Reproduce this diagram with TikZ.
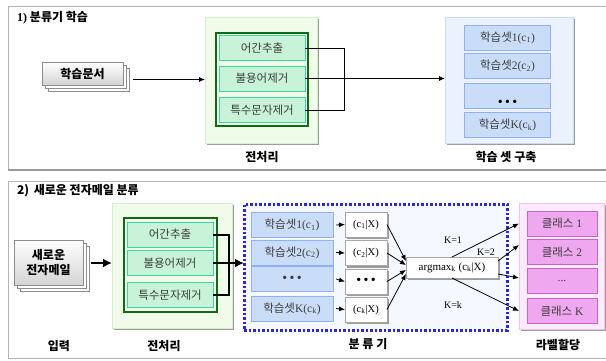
\documentclass[tikz,border=0pt]{standalone}
\usepackage{fontspec}
\setmainfont{Liberation Serif}
\newfontfamily\kr{Noto Sans CJK KR}
\usetikzlibrary{arrows.meta,positioning,shadows}

\definecolor{framegray}{HTML}{B4B4B4}
\definecolor{shadowgray}{HTML}{9C9C9C}
\definecolor{txtgray}{HTML}{3C3C3C}
\definecolor{docline}{HTML}{8C8C8C}
\definecolor{docgray}{HTML}{D4D4D4}
\definecolor{greenbg}{HTML}{F1FBEA}
\definecolor{greenline}{HTML}{D4EFCB}
\definecolor{prepdark}{HTML}{0E6A14}
\definecolor{prepfill}{HTML}{C8F3D8}
\definecolor{prepline}{HTML}{3DD6A3}
\definecolor{bluebg}{HTML}{EBF2FD}
\definecolor{blueline}{HTML}{CCDCF4}
\definecolor{setfill}{HTML}{CADDF8}
\definecolor{setline}{HTML}{8DB1F2}
\definecolor{clsdot}{HTML}{2A2AC8}
\definecolor{clsfill}{HTML}{F5F9FF}
\definecolor{pinkbg}{HTML}{FFEBFF}
\definecolor{pinkline}{HTML}{F0C4F0}
\definecolor{labfill}{HTML}{EFA8EF}
\definecolor{labline}{HTML}{C962C9}

\tikzset{
  every node/.style={inner sep=0pt, outer sep=0pt},
  shade box/.style={drop shadow={shadow xshift=2pt, shadow yshift=-2pt, fill=shadowgray, opacity=1}},
  docfront/.style={draw=docline, top color=white, bottom color=docgray, line width=0.6pt,
    align=center, font=\kr\bfseries\fontsize{12}{15}\selectfont},
  docback/.style={draw=docline, fill=white, line width=0.6pt},
  prepanel/.style={shade box, draw=greenline, fill=greenbg, line width=0.5pt},
  prepframe/.style={draw=prepdark, line width=2pt},
  prepbox/.style={draw=prepline, fill=prepfill, line width=1pt, minimum width=86, minimum height=25,
    text=txtgray, font=\kr\fontsize{11.5}{13}\selectfont},
  setpanel/.style={shade box, draw=blueline, fill=bluebg, line width=0.5pt},
  setbox/.style={draw=setline, fill=setfill, line width=0.8pt, minimum height=25,
    text=txtgray, font=\fontsize{11.5}{13}\selectfont},
  clsbox/.style={draw=clsdot, fill=clsfill, line width=3pt, dash pattern=on 2.5pt off 2pt},
  probbox/.style={shade box, draw=gray!70, fill=white, line width=0.5pt, minimum width=42,
    minimum height=25, font=\fontsize{10.5}{12}\selectfont},
  labpanel/.style={shade box, draw=pinkline, fill=pinkbg, line width=0.8pt},
  labbox/.style={draw=labline, fill=labfill, line width=0.8pt, minimum width=70, minimum height=25,
    text=txtgray, font=\fontsize{11.5}{13}\selectfont},
  caption/.style={font=\kr\bfseries\fontsize{12}{14}\selectfont},
  klabel/.style={font=\fontsize{10}{12}\selectfont},
  arr/.style={-{Latex[length=6pt,width=5pt]}, line width=0.8pt},
  fatarr/.style={-{Latex[length=9pt,width=9pt]}, line width=2.2pt},
}
\newcommand\bigdots{{\fontsize{14}{14}\selectfont\textbullet\,\textbullet\,\textbullet}}

\begin{document}
\begin{tikzpicture}[x=1pt,y=-1pt]
\useasboundingbox (0,0) rectangle (606,360);

% outer frames
\draw[framegray, line width=0.8pt] (606,6) -- (8,6) -- (8,170);
\draw[shadowgray, line width=2.5pt] (8,170) -- (606,170);
\draw[framegray, line width=0.8pt] (606,181) -- (8,181) -- (8,358) -- (606,358);

%%%% 1) training
\node[anchor=west, font=\bfseries\fontsize{12}{14}\selectfont] (title1) at (17,18)
  {1) {\kr 분류기 학습}};

\node[docback, minimum width=81, minimum height=23] (doc1c) at (88.5,79.5) {};
\node[docback, minimum width=81, minimum height=23] (doc1b) at (85.5,76.5) {};
\node[docfront, minimum width=81, minimum height=23] (doc1) at (82.5,73.5) {학습문서};

\node[prepanel, minimum width=112, minimum height=126] (prep1) at (261,80) {};
\node[prepframe, minimum width=92, minimum height=93] (frame1) at (262,79.5) {};
\node[prepbox] (pre1a) at (262,48) {어간추출};
\node[prepbox] (pre1b) at (262,78.5) {불용어제거};
\node[prepbox] (pre1c) at (262,110) {특수문자제거};

\node[setpanel, minimum width=128, minimum height=126] (sets1) at (509,80) {};
\node[setbox, minimum width=86] (set1a) at (507.5,37.5) {{\kr 학습셋}1(c\textsubscript{1})};
\node[setbox, minimum width=86] (set1b) at (507.5,66) {{\kr 학습셋}2(c\textsubscript{2})};
\node[setbox, minimum width=86] (set1c) at (507.5,95.5) {};
\node[above=2pt of set1c.south] (dots1) {\bigdots};
\node[setbox, minimum width=86] (set1d) at (507.5,125) {{\kr 학습셋}K(c\textsubscript{k})};

\draw[arr] ([xshift=4pt]doc1c.east) -- (prep1.west |- doc1c.east);
\coordinate (bus1) at (344,0);
\draw[line width=0.8pt] (pre1a.east) -- (pre1a.east -| bus1) -- (pre1c.east -| bus1) -- (pre1c.east);
\draw[arr] (pre1b.east) -- (sets1.west |- pre1b.east);

\node[caption] (cap1a) at (262,157) {전처리};
\node[caption] (cap1b) at (506,157) {학습 셋 구축};

%%%% 2) classifying new mail
\node[anchor=west, font=\kr\bfseries\fontsize{12}{14}\selectfont] (title2) at (17,191)
  {2)\, 새로운 전자메일 분류};

\node[docback, minimum width=69, minimum height=45] (doc2c) at (54.5,268.5) {};
\node[docback, minimum width=69, minimum height=45] (doc2b) at (51.5,265.5) {};
\node[docfront, minimum width=69, minimum height=45] (doc2) at (48.5,262.5) {새로운\\전자메일};

\node[prepanel, minimum width=120, minimum height=125] (prep2) at (172,265.5) {};
\node[prepframe, minimum width=93, minimum height=94] (frame2) at (170.5,265) {};
\node[prepbox] (pre2a) at (170,234.5) {어간추출};
\node[prepbox] (pre2b) at (170,263) {불용어제거};
\node[prepbox] (pre2c) at (170,295) {특수문자제거};

\node[clsbox, minimum width=263, minimum height=126] (cls) at (375.5,267) {};
\node[setbox, minimum width=82] (cs1) at (292,225) {{\kr 학습셋}1(c\textsubscript{1})};
\node[setbox, minimum width=82] (cs2) at (292,252.5) {{\kr 학습셋}2(c\textsubscript{2})};
\node[setbox, minimum width=82] (cs3) at (292,279) {\bigdots};
\node[setbox, minimum width=82] (cs4) at (292,308.5) {{\kr 학습셋}K(c\textsubscript{k})};

\node[probbox] (pb1) at (366,224.5) {(c\textsubscript{1}|X)};
\node[probbox] (pb2) at (366,253) {(c\textsubscript{2}|X)};
\node[probbox] (pb3) at (366,281.5) {\bigdots};
\node[probbox] (pb4) at (366,309.5) {(c\textsubscript{k}|X)};

\node[probbox, minimum width=92, minimum height=21, font=\fontsize{11}{12}\selectfont] (argmax)
  at (452,267.5) {argmax\textsubscript{k} (c\textsubscript{k}|X)};

\node[labpanel, minimum width=85, minimum height=126] (lab) at (561.5,266) {};
\node[labbox] (cl1) at (562,223.5) {{\kr 클래스} 1};
\node[labbox] (cl2) at (562,252) {{\kr 클래스} 2};
\node[labbox] (cl3) at (562,281) {...};
\node[labbox] (cl4) at (562,311) {{\kr 클래스} K};

\draw[fatarr] ([xshift=2pt]doc2c.east |- pre2b) -- (prep2.west |- pre2b);
\coordinate (bus2) at (229,0);
\draw[line width=2pt] (pre2a.east) -- (pre2a.east -| bus2) -- (pre2c.east -| bus2) -- (pre2c.east);
\draw[fatarr] (pre2b.east) -- (cls.west |- pre2b);

\foreach \i in {1,...,4}
  \draw[arr] ([xshift=3pt]cs\i.east) -- (pb\i.west);
\foreach \i/\a in {1/172,2/177,3/183,4/188}
  \draw[arr] (pb\i.east) -- (argmax.\a);

\coordinate (k2) at (519,245);
\coordinate (k3) at (519,278);
\draw[arr] (argmax.north) -- (lab.west |- cl1);
\draw[arr] (argmax.8) -- (k2);
\draw[arr] (argmax.-8) -- (k3);
\draw[arr] (argmax.south) -- (lab.west |- cl4);
\node[klabel] (kone) at (453,240) {K=1};
\node[klabel] (ktwo) at (486,252) {K=2};
\node[klabel] (kk) at (453,305) {K=k};

\node[caption] (cap2a) at (59,346) {입력};
\node[caption] (cap2b) at (164,346) {전처리};
\node[caption] (cap2c) at (368,344) {분 류 기};
\node[caption] (cap2d) at (558,345) {라벨할당};
\end{tikzpicture}
\end{document}
